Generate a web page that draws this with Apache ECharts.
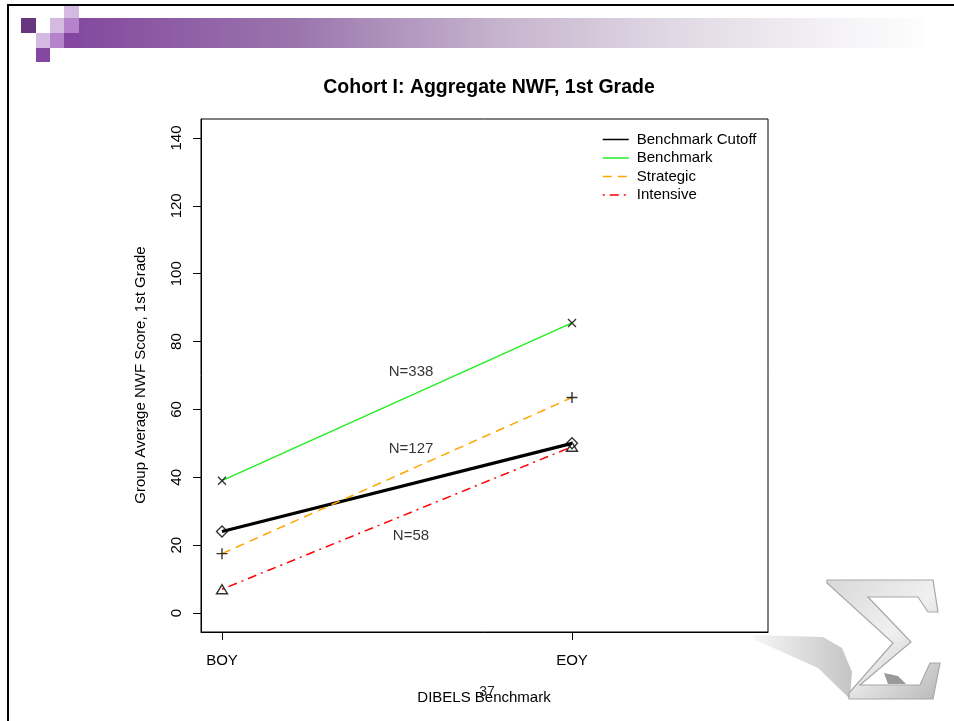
<!DOCTYPE html>
<html>
<head>
<meta charset="utf-8">
<title>Cohort I: Aggregate NWF, 1st Grade</title>
<script src="https://cdn.jsdelivr.net/npm/echarts@6/dist/echarts.min.js"></script>
<style>
  html, body { margin: 0; padding: 0; background: #fff; }
  #chart { width: 954px; height: 721px; }
</style>
</head>
<body>
<div id="chart"></div>
<script>
// x positions of the two benchmark periods
const categories = ['BOY', 'EOY'];
const xPos = [1, 2];

// group averages
const cutoff = [24, 50];
const benchmark = [39, 85.5];
const strategic = [17.5, 63.5];
const intensive = [7, 49];

const yTicks = [0, 20, 40, 60, 80, 100, 120, 140];

// N= annotations
const nLabels = ['N=338', 'N=127', 'N=58'];
const nLabelX = [1.54, 1.54, 1.54];
const nLabelY = [71, 48.3, 22.7];

const FONT = '"Liberation Sans", Arial, sans-serif';

const pairs = (ys) => ys.map((y, i) => [xPos[i], y]);

const lineSeries = (name, ys, color, width, dash) => ({
  name: name,
  type: 'line',
  data: pairs(ys),
  symbol: 'none',
  itemStyle: { color: color },
  lineStyle: { color: color, width: width, type: dash || 'solid' },
  z: 2
});

const markerSeries = (ys, symbol, size) => ({
  type: 'scatter',
  data: pairs(ys),
  symbol: symbol,
  symbolSize: size,
  itemStyle: { color: 'none', borderColor: '#000', borderWidth: 1.4 },
  z: 4,
  silent: true
});

const chart = echarts.init(document.getElementById('chart'));

const option = {
  animation: false,
  title: {
    text: 'Cohort I: Aggregate NWF, 1st Grade',
    left: 484,
    top: 73,
    textAlign: 'center',
    textStyle: { fontFamily: FONT, fontSize: 19.5, fontWeight: 'bold', color: '#000' }
  },
  legend: {
    data: ['Benchmark Cutoff', 'Benchmark', 'Strategic', 'Intensive'],
    orient: 'vertical',
    left: 597,
    top: 127,
    itemWidth: 26,
    itemHeight: 14,
    itemGap: 3.5,
    selectedMode: false,
    itemStyle: { opacity: 0 },
    lineStyle: { width: 1.5 },
    textStyle: { fontFamily: FONT, fontSize: 15, color: '#000', padding: [0, 0, 0, 3] }
  },
  grid: {
    left: 201, right: 186, top: 119, bottom: 89,
    show: true, borderColor: '#000', borderWidth: 1
  },
  xAxis: {
    type: 'value',
    min: 0.94, max: 2.56,
    axisLine: { show: true, onZero: false, lineStyle: { color: '#000', width: 1 } },
    axisTick: { show: true, length: 8, customValues: xPos, lineStyle: { color: '#000' } },
    axisLabel: {
      customValues: xPos,
      margin: 21,
      fontFamily: FONT, fontSize: 15, color: '#000',
      formatter: (v) => categories[xPos.indexOf(v)]
    },
    splitLine: { show: false }
  },
  yAxis: {
    type: 'value',
    min: -5.6, max: 145.6,
    axisLine: { show: true, onZero: false, lineStyle: { color: '#000', width: 1 } },
    axisTick: { show: true, length: 8, customValues: yTicks, lineStyle: { color: '#000' } },
    axisLabel: {
      customValues: yTicks,
      rotate: 90,
      margin: 17,
      fontFamily: FONT, fontSize: 15, color: '#000'
    },
    splitLine: { show: false }
  },
  series: [
    lineSeries('Benchmark Cutoff', cutoff, '#000000', 3.2),
    lineSeries('Benchmark', benchmark, '#22ee22', 1.5),
    lineSeries('Strategic', strategic, '#ffa500', 1.5, [9, 6]),
    lineSeries('Intensive', intensive, '#ff0000', 1.5, [2, 5, 9, 5]),
    markerSeries(cutoff, 'diamond', 11),
    markerSeries(benchmark, 'path://M0,0 L10,10 M10,0 L0,10', 8),
    markerSeries(strategic, 'path://M5,0 L5,10 M0,5 L10,5', 11),
    markerSeries(intensive, 'triangle', [11, 9]),
    {
      type: 'scatter',
      symbolSize: 0,
      silent: true,
      data: nLabels.map((t, i) => ({ name: t, value: [nLabelX[i], nLabelY[i]] })),
      label: {
        show: true, position: 'inside', formatter: '{b}',
        fontFamily: FONT, fontSize: 15, color: '#000'
      },
      z: 5
    }
  ],
  graphic: [
    // slide frame
    { type: 'line', shape: { x1: 7, y1: 5, x2: 954, y2: 5 }, style: { stroke: '#000', lineWidth: 2 }, z: 10 },
    { type: 'line', shape: { x1: 8, y1: 4, x2: 8, y2: 721 }, style: { stroke: '#000', lineWidth: 2 }, z: 10 },
    // header band
    {
      type: 'rect', shape: { x: 79, y: 18, width: 845, height: 30 },
      style: {
        fill: new echarts.graphic.LinearGradient(0, 0, 1, 0, [
          { offset: 0, color: '#844a9e' },
          { offset: 0.25, color: '#9a74ad' },
          { offset: 0.5, color: '#c6b4cd' },
          { offset: 0.7, color: '#e0d8e4' },
          { offset: 0.9, color: '#f5f3f6' },
          { offset: 1, color: '#fdfdfd' }
        ])
      }
    },
    { type: 'rect', shape: { x: 21, y: 18, width: 15, height: 15 }, style: { fill: '#68367f' } },
    { type: 'rect', shape: { x: 64, y: 6, width: 15, height: 12 }, style: { fill: '#d4b9e1' } },
    { type: 'rect', shape: { x: 50, y: 18, width: 14, height: 15 }, style: { fill: '#d4b9e1' } },
    { type: 'rect', shape: { x: 64, y: 18, width: 15, height: 15 }, style: { fill: '#b483cc' } },
    { type: 'rect', shape: { x: 36, y: 33, width: 14, height: 15 }, style: { fill: '#d4b9e1' } },
    { type: 'rect', shape: { x: 50, y: 33, width: 14, height: 15 }, style: { fill: '#b483cc' } },
    { type: 'rect', shape: { x: 64, y: 33, width: 15, height: 15 }, style: { fill: '#8446a0' } },
    { type: 'rect', shape: { x: 36, y: 48, width: 14, height: 14 }, style: { fill: '#8446a0' } },
    // sigma logo
    {
      type: 'polygon',
      shape: { points: [[753, 635], [823, 637], [842, 648], [852, 672], [850, 699], [818, 668], [753, 639]] },
      style: {
        fill: new echarts.graphic.LinearGradient(0, 0, 1, 0, [
          { offset: 0, color: '#f6f6f6' }, { offset: 1, color: '#c4c4c4' }
        ])
      }
    },
    {
      type: 'polygon',
      shape: { points: [[827, 580], [933, 580], [938, 612], [928, 612], [918, 597], [868, 597], [911, 642], [860, 685], [920, 685], [930, 663], [940, 663], [933, 699], [849, 699], [849, 693], [893, 643], [827, 583]] },
      style: {
        fill: new echarts.graphic.LinearGradient(0, 0, 1, 1, [
          { offset: 0, color: '#d8d8d8' }, { offset: 0.5, color: '#f0f0f0' }, { offset: 1, color: '#b8b8b8' }
        ]),
        stroke: '#a8a8a8', lineWidth: 1.2
      }
    },
    {
      type: 'polygon',
      shape: { points: [[884, 673], [898, 676], [906, 684], [888, 684]] },
      style: { fill: '#9a9a9a' }
    },
    // axis titles and page number
    {
      type: 'text', x: 141, y: 375, rotation: Math.PI / 2,
      style: { text: 'Group Average NWF Score, 1st Grade', font: '15px ' + FONT, fill: '#000', align: 'center', verticalAlign: 'middle' }
    },
    {
      type: 'text', x: 484, y: 698,
      style: { text: 'DIBELS Benchmark', font: '15px ' + FONT, fill: '#000', align: 'center', verticalAlign: 'middle' }
    },
    {
      type: 'text', x: 487, y: 692,
      style: { text: '37', font: '14px ' + FONT, fill: '#222', align: 'center', verticalAlign: 'middle' }
    }
  ]
};

chart.setOption(option);
</script>
</body>
</html>
